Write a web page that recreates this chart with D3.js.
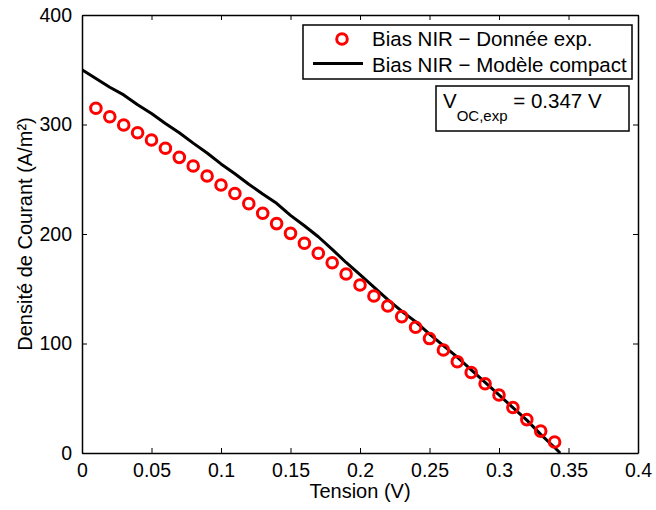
<!DOCTYPE html>
<html>
<head>
<meta charset="utf-8">
<script src="https://cdn.jsdelivr.net/npm/d3@7"></script>
<style>
  html, body { margin: 0; padding: 0; background: #fff; }
  svg { display: block; font-family: "Liberation Sans", Arial, Helvetica, sans-serif; }
</style>
</head>
<body>
<svg id="chart" width="656" height="510"></svg>
<script>
// ---- Data ----
const expVoltage = [0.01,0.02,0.03,0.04,0.05,0.06,0.07,0.08,0.09,0.10,0.11,0.12,0.13,0.14,0.15,0.16,0.17,0.18,0.19,0.20,0.21,0.22,0.23,0.24,0.25,0.26,0.27,0.28,0.29,0.30,0.31,0.32,0.33,0.34];
const expCurrent = [314.8,307.1,299.5,292.5,285.8,278.3,270.0,262.1,253.0,244.7,237.0,227.7,218.9,209.5,200.6,191.5,182.4,173.8,163.5,153.4,143.4,134.2,124.5,114.8,104.5,94.1,83.4,73.5,63.3,53.0,41.5,30.5,20.0,10.0];

const modelVoltage = [0,0.01,0.02,0.03,0.04,0.05,0.06,0.07,0.08,0.09,0.10,0.11,0.12,0.13,0.14,0.15,0.16,0.17,0.18,0.19,0.20,0.21,0.22,0.23,0.24,0.25,0.26,0.27,0.28,0.29,0.30,0.31,0.32,0.33,0.34,0.344];
const modelCurrent = [350,342,334,327,318,310,301,292.5,283,274,264,255,245.5,236.5,228,217,207.5,197.5,186,174,163,151.5,140,129.5,120,108.5,98,87.5,76,64.5,53,41.5,30,17,5,0];

const xTickValues = [0,0.05,0.1,0.15,0.2,0.25,0.3,0.35,0.4];
const xTickLabels = ["0","0.05","0.1","0.15","0.2","0.25","0.3","0.35","0.4"];
const yTickValues = [0,100,200,300,400];
const yTickLabels = ["0","100","200","300","400"];

const legendLabels = ["Bias NIR \u2212 Donnée exp.", "Bias NIR \u2212 Modèle compact"];
const xTitle = "Tension (V)";
const yTitle = "Densité de Courant (A/m²)";

// ---- Layout ----
const L = 82, R = 638, T = 15, B = 453;
const svg = d3.select("#chart");
const x = d3.scaleLinear().domain([0, 0.4]).range([L, R]);
const y = d3.scaleLinear().domain([0, 400]).range([B, T]);

const tickFont = "19.5px";

// Plot content (clipped)
svg.append("clipPath").attr("id", "clip")
  .append("rect").attr("x", L).attr("y", T).attr("width", R - L).attr("height", B - T);

const plot = svg.append("g").attr("clip-path", "url(#clip)");

const line = d3.line().x((d, i) => x(modelVoltage[i])).y((d, i) => y(modelCurrent[i]));
plot.append("path")
  .datum(modelCurrent)
  .attr("d", line)
  .attr("fill", "none")
  .attr("stroke", "#000")
  .attr("stroke-width", 3)
  .attr("stroke-linejoin", "round");

plot.selectAll("circle.exp")
  .data(expCurrent)
  .enter().append("circle")
  .attr("class", "exp")
  .attr("cx", (d, i) => x(expVoltage[i]))
  .attr("cy", d => y(d))
  .attr("r", 5.3)
  .attr("fill", "none")
  .attr("stroke", "#ff0000")
  .attr("stroke-width", 3);

// Axes
function styleAxis(g) {
  g.select(".domain").attr("stroke", "#000").attr("stroke-width", 1.5);
  g.selectAll(".tick line").attr("stroke", "#000").attr("stroke-width", 1);
  g.selectAll(".tick text").attr("fill", "#000").style("font-size", tickFont)
    .style("font-family", '"Liberation Sans", Arial, sans-serif');
}

const xAxis = d3.axisBottom(x).tickValues(xTickValues)
  .tickFormat((d, i) => xTickLabels[i]).tickSizeInner(-5).tickSizeOuter(0).tickPadding(10);
svg.append("g").attr("transform", `translate(0,${B})`).call(xAxis).call(styleAxis);

const yAxis = d3.axisLeft(y).tickValues(yTickValues)
  .tickFormat((d, i) => yTickLabels[i]).tickSizeInner(-5).tickSizeOuter(0).tickPadding(10);
svg.append("g").attr("transform", `translate(${L},0)`).call(yAxis).call(styleAxis);

const xTop = d3.axisTop(x).tickValues(xTickValues).tickFormat("").tickSizeInner(-5).tickSizeOuter(0);
svg.append("g").attr("transform", `translate(0,${T})`).call(xTop).call(styleAxis);
const yRight = d3.axisRight(y).tickValues(yTickValues).tickFormat("").tickSizeInner(-5).tickSizeOuter(0);
svg.append("g").attr("transform", `translate(${R},0)`).call(yRight).call(styleAxis);

// Axis titles
svg.append("text")
  .attr("x", (L + R) / 2).attr("y", 498)
  .attr("text-anchor", "middle")
  .style("font-size", "20px")
  .text(xTitle);

svg.append("text")
  .attr("transform", `translate(32,${(T + B) / 2}) rotate(-90)`)
  .attr("text-anchor", "middle")
  .style("font-size", "20px")
  .text(yTitle);

// Legend
const leg = svg.append("g");
leg.append("rect")
  .attr("x", 303).attr("y", 25).attr("width", 329).attr("height", 54)
  .attr("fill", "#fff").attr("stroke", "#000").attr("stroke-width", 1.5);
leg.append("circle")
  .attr("cx", 342).attr("cy", 39).attr("r", 5.3)
  .attr("fill", "none").attr("stroke", "#ff0000").attr("stroke-width", 3);
leg.append("line")
  .attr("x1", 313).attr("x2", 363).attr("y1", 63.5).attr("y2", 63.5)
  .attr("stroke", "#000").attr("stroke-width", 3);
leg.append("text").attr("x", 372).attr("y", 46).style("font-size", "20.5px").text(legendLabels[0]);
leg.append("text").attr("x", 372).attr("y", 72).style("font-size", "20.5px").text(legendLabels[1]);

// Voc annotation
const ann = svg.append("g");
ann.append("rect")
  .attr("x", 436).attr("y", 86).attr("width", 193).attr("height", 45)
  .attr("fill", "#fff").attr("stroke", "#000").attr("stroke-width", 1.5);
const t = ann.append("text").attr("x", 443).attr("y", 108).style("font-size", "20.5px");
t.append("tspan").text("V");
t.append("tspan").attr("dy", 13).style("font-size", "15px").text("OC,exp");
t.append("tspan").attr("dy", -13).text(" = 0.347 V");
</script>
</body>
</html>
